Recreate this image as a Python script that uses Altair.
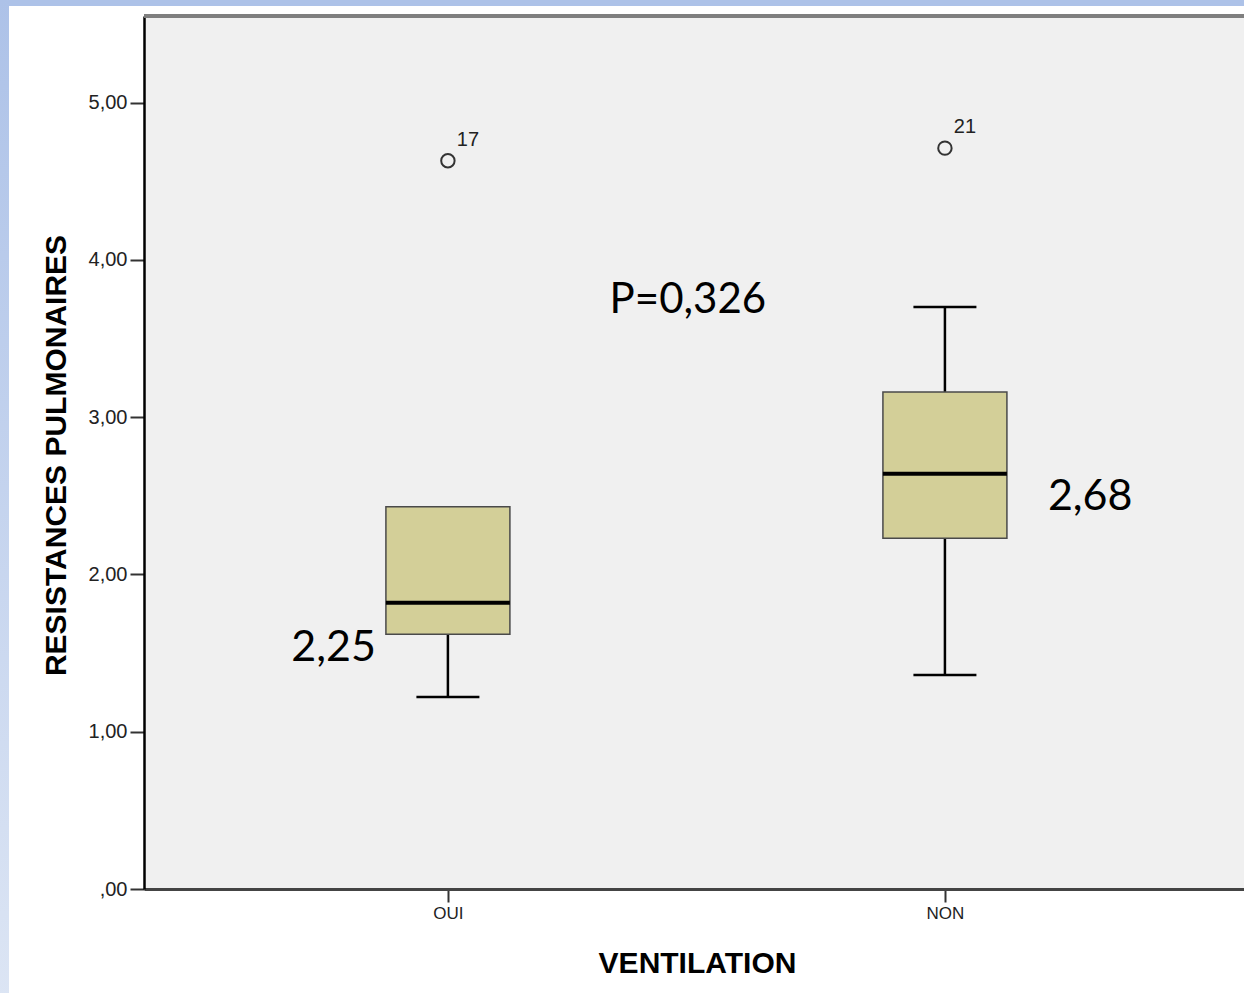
import altair as alt
import pandas as pd

# ---- data ----
groups = ["OUI", "NON"]
whisker_low = [1.22, 1.36]
q1 = [1.62, 2.23]
median = [1.82, 2.64]
q3 = [2.43, 3.16]
whisker_high = [2.43, 3.70]
outlier_values = [4.63, 4.71]
outlier_ids = ["17", "21"]
median_labels = ["2,25", "2,68"]
median_label_y = [1.55, 2.51]
p_label = ["P=0,326"]
p_label_y = [3.76]
y_ticks = [0, 1, 2, 3, 4, 5]

W, H = 1100, 873

box = pd.DataFrame({"g": groups, "low": whisker_low, "q1": q1, "med": median,
                    "q3": q3, "high": whisker_high})
out = pd.DataFrame({"g": groups, "v": outlier_values, "id": outlier_ids})
ann = pd.DataFrame({"g": groups, "y": median_label_y, "t": median_labels})
ptxt = pd.DataFrame({"g": [groups[0]], "y": p_label_y, "t": p_label})
one = pd.DataFrame({"k": [0]})

FONT = "Liberation Sans"

xscale = alt.Scale(type="point", domain=groups, padding=0.6066, align=0.504)
yscale = alt.Scale(domain=[0, 5.55], nice=False, zero=True)

x_axis = alt.Axis(title="VENTILATION", domainColor="#444", domainWidth=3,
                  tickColor="#333", tickWidth=2, tickSize=13,
                  labelFont=FONT, labelFontSize=17, labelColor="#222", labelPadding=3,
                  labelAngle=0, titleFont=FONT, titleFontSize=30, titleFontWeight="bold",
                  titleColor="black", titleX=553, titleY=74, titleBaseline="middle",
                  titleAlign="center")
y_axis = alt.Axis(title="RESISTANCES PULMONAIRES", values=y_ticks, grid=False,
                  domainColor="black", domainWidth=2.5, tickColor="#333", tickWidth=2,
                  tickSize=14, labelFont=FONT, labelFontSize=20, labelColor="#222",
                  labelPadding=3,
                  labelExpr="datum.value == 0 ? ',00' : replace(format(datum.value, '.2f'), '.', ',')",
                  titleFont=FONT, titleFontSize=30, titleFontWeight="bold",
                  titleColor="black", titleX=-88, titleY=439, titleAngle=-90,
                  titleAlign="center", titleBaseline="middle")

X = alt.X("g:N", scale=xscale, sort=groups, axis=x_axis)


def Y(field):
    return alt.Y(field, type="quantitative", scale=yscale, axis=y_axis)


base = alt.Chart(box)

whisk_lo = base.mark_rule(color="black", strokeWidth=2.5).encode(
    x=X, y=Y("low"), y2="q1")
whisk_hi = base.mark_rule(color="black", strokeWidth=2.5).encode(
    x=X, y=Y("q3"), y2="high")
boxes = base.mark_bar(size=124, fill="#d3cf98", stroke="#4a4a4a", strokeWidth=1.5).encode(
    x=X, y=Y("q3"), y2="q1")
med = base.mark_tick(size=124, thickness=4, color="black", opacity=1).encode(
    x=X, y=Y("med"))
cap_lo = base.mark_tick(size=63, thickness=2.5, color="black", opacity=1).encode(
    x=X, y=Y("low"))
cap_hi = base.transform_filter("datum.high > datum.q3").mark_tick(
    size=63, thickness=2.5, color="black", opacity=1).encode(x=X, y=Y("high"))

pts = alt.Chart(out).mark_point(shape="circle", filled=False, size=180,
                                stroke="#333", strokeWidth=2, opacity=1).encode(
    x=X, y=Y("v"))
pt_lbl = alt.Chart(out).mark_text(dx=20, dy=-21, font=FONT, fontSize=20,
                                  color="#222").encode(x=X, y=Y("v"), text="id:N")

ann_left = alt.Chart(ann).transform_filter(f"datum.g == '{groups[0]}'").mark_text(
    font="Lato", fontSize=43, color="black", align="right", baseline="middle",
    dx=-72, dy=3).encode(x=X, y=Y("y"), text="t:N")
ann_right = alt.Chart(ann).transform_filter(f"datum.g == '{groups[1]}'").mark_text(
    font="Lato", fontSize=43, color="black", align="left", baseline="middle",
    dx=103, dy=3).encode(x=X, y=Y("y"), text="t:N")
p_text = alt.Chart(ptxt).mark_text(font="Lato", fontSize=42, color="black",
                                   align="center", baseline="middle", dx=240, dy=2).encode(
    x=X, y=Y("y"), text="t:N")

# frame decorations
top_line = alt.Chart(one).mark_rule(color="#7f7f7f", strokeWidth=4).encode(
    x=alt.value(0), x2=alt.value(W), y=alt.value(0))
blue_top = alt.Chart(one).mark_rect(color="#adc2e8").encode(
    x=alt.value(-144), x2=alt.value(W), y=alt.value(-16), y2=alt.value(-10))
blue_left = alt.Chart(one).mark_rect(
    fill=alt.Gradient(gradient="linear",
                      stops=[alt.GradientStop(color="#adc2e8", offset=0),
                             alt.GradientStop(color="#dce5f4", offset=1)],
                      x1=0, x2=0, y1=0, y2=1)).encode(
    x=alt.value(-144), x2=alt.value(-135), y=alt.value(-16), y2=alt.value(H + 110))

chart = alt.layer(
    whisk_lo, whisk_hi, boxes, med, cap_lo, cap_hi, pts, pt_lbl,
    ann_left, ann_right, p_text, top_line, blue_top, blue_left
).properties(
    width=W, height=H,
    autosize=alt.AutoSizeParams(type="none"),
    padding={"left": 144, "top": 16, "right": 0, "bottom": 104},
    background="white",
).configure_view(fill="#f0f0f0", stroke="transparent")

chart.save("out.html", embed_options={"renderer": "svg", "actions": False})
